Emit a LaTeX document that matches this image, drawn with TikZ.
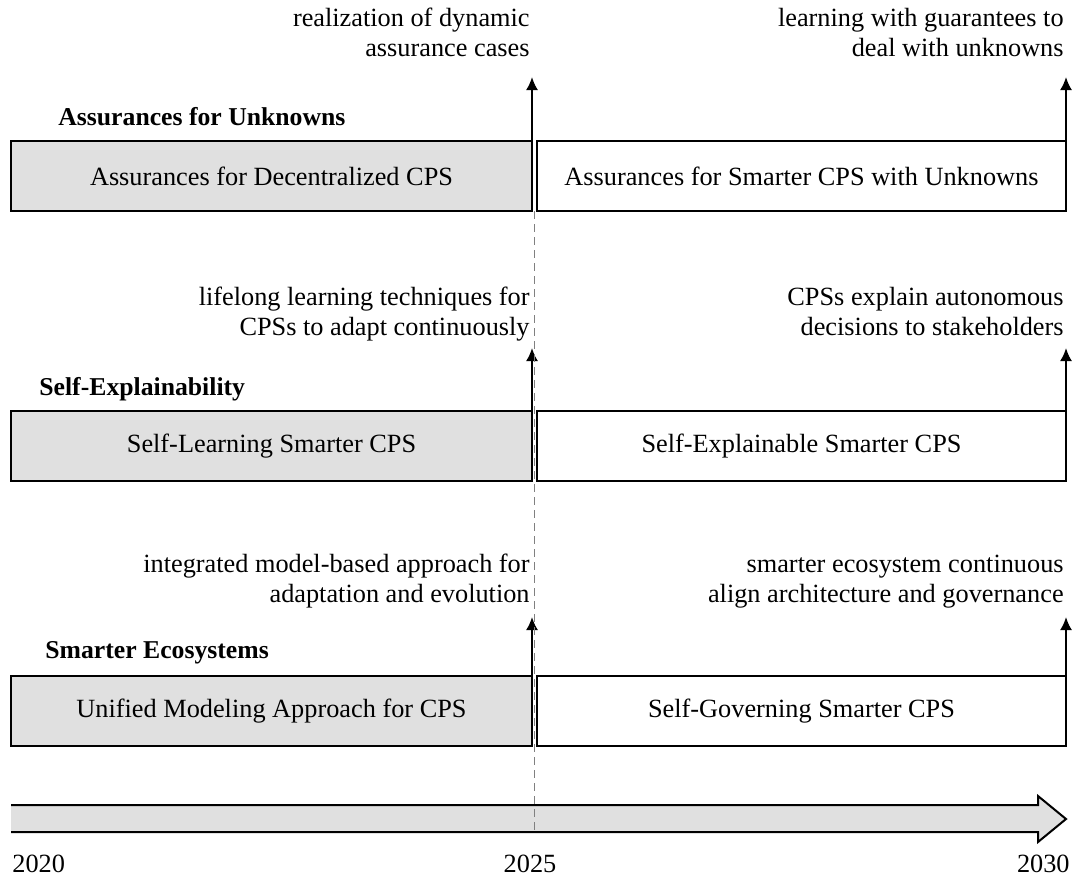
\documentclass[tikz,border=0pt]{standalone}
\usepackage{fontspec}
\setmainfont{Liberation Serif}
\usepackage{xcolor}
\usetikzlibrary{
    arrows.meta,
}

\definecolor{boxgray}{gray}{0.88}

\tikzset{
    every node/.style={font=\fontsize{13.15}{15}\selectfont},
    oldbox/.style={draw,line width=1pt,fill=boxgray,anchor=north west,
        minimum width=260.5pt,minimum height=35pt,inner sep=0pt,outer sep=0pt},
    newbox/.style={draw,line width=1pt,fill=white,anchor=north west,
        minimum width=264.5pt,minimum height=35pt,inner sep=0pt,outer sep=0pt},
    heading/.style={anchor=base west,inner sep=0pt,
        font=\fontsize{12.85}{15}\selectfont\bfseries},
    note/.style={anchor=north east,align=right,inner sep=0pt},
    milestone/.style={line width=1pt,-{Latex[length=6.5pt,width=6pt]}},
}

\begin{document}
\begin{tikzpicture}[x=0.5pt,y=-0.5pt]
    \useasboundingbox (0,0) rectangle (1075,878);
    % \draw[help lines] grid (1075,878);

    % Assurances for Unknowns
    \begin{scope}[shift={(0,141)}]
        % Label
        \node[heading] (unkHead) at (58,-16) {Assurances for Unknowns};

        % Boxes
        \node[oldbox] (unkOld) at (11,0) {Assurances for Decentralized CPS};
        \node[newbox] (unkNew) at (537,0) {Assurances for Smarter CPS with Unknowns};

        % Milestones
        \coordinate (unkOldTip) at ([yshift=32pt]unkOld.north east);
        \coordinate (unkNewTip) at ([yshift=32pt]unkNew.north east);
        \draw[milestone] (unkOld.north east) -- (unkOldTip);
        \draw[milestone] (unkNew.north east) -- (unkNewTip);
        \node[note] (unkOldNote) at (530,-136)
            {\strut realization of dynamic\\assurance cases};
        \node[note] (unkNewNote) at (1064,-136)
            {\strut learning with guarantees to\\deal with unknowns};
    \end{scope}

    % Self-Explainability
    \begin{scope}[shift={(0,411)}]
        % Label
        \node[heading] (expHead) at (39,-16) {Self-Explainability};

        % Boxes
        \node[oldbox] (expOld) at (11,0) {Self-Learning Smarter CPS};
        \node[newbox] (expNew) at (537,0) {Self-Explainable Smarter CPS};

        % Milestones
        \coordinate (expOldTip) at ([yshift=31.5pt]expOld.north east);
        \coordinate (expNewTip) at ([yshift=31.5pt]expNew.north east);
        \draw[milestone] (expOld.north east) -- (expOldTip);
        \draw[milestone] (expNew.north east) -- (expNewTip);
        \node[note] (expOldNote) at (530,-127)
            {\strut lifelong learning techniques for\\CPSs to adapt continuously};
        \node[note] (expNewNote) at (1064,-127)
            {\strut CPSs explain autonomous\\decisions to stakeholders};
    \end{scope}

    % Smarter Ecosystems
    \begin{scope}[shift={(0,676)}]
        % Label
        \node[heading] (ecoHead) at (45,-18) {Smarter Ecosystems};

        % Boxes
        \node[oldbox] (ecoOld) at (11,0) {Unified Modeling Approach for CPS};
        \node[newbox] (ecoNew) at (537,0) {Self-Governing Smarter CPS};

        % Milestones
        \coordinate (ecoOldTip) at ([yshift=29.5pt]ecoOld.north east);
        \coordinate (ecoNewTip) at ([yshift=29.5pt]ecoNew.north east);
        \draw[milestone] (ecoOld.north east) -- (ecoOldTip);
        \draw[milestone] (ecoNew.north east) -- (ecoNewTip);
        \node[note] (ecoOldNote) at (530,-125)
            {\strut integrated model-based approach for\\adaptation and evolution};
        \node[note] (ecoNewNote) at (1064,-125)
            {\strut smarter ecosystem continuous\\align architecture and governance};
    \end{scope}

    % Time axis
    \filldraw[line width=1pt,fill=boxgray] (11,805) -- (1038,805) -- (1038,796)
        -- (1066,819) -- (1038,842) -- (1038,832) -- (11,832);

    % 2025 divider
    \coordinate (divEnd) at (534.5,832);
    \draw[gray,line width=0.6pt,dash pattern=on 4pt off 2.5pt]
        ([xshift=1.25pt]unkOld.south east) -- (divEnd);

    % Years
    \node[anchor=base west,inner sep=0pt] (y2020) at (12,872) {2020};
    \node[anchor=base,inner sep=0pt] (y2025) at (530,872) {2025};
    \node[anchor=base east,inner sep=0pt] (y2030) at (1070,872) {2030};

\end{tikzpicture}
\end{document}
